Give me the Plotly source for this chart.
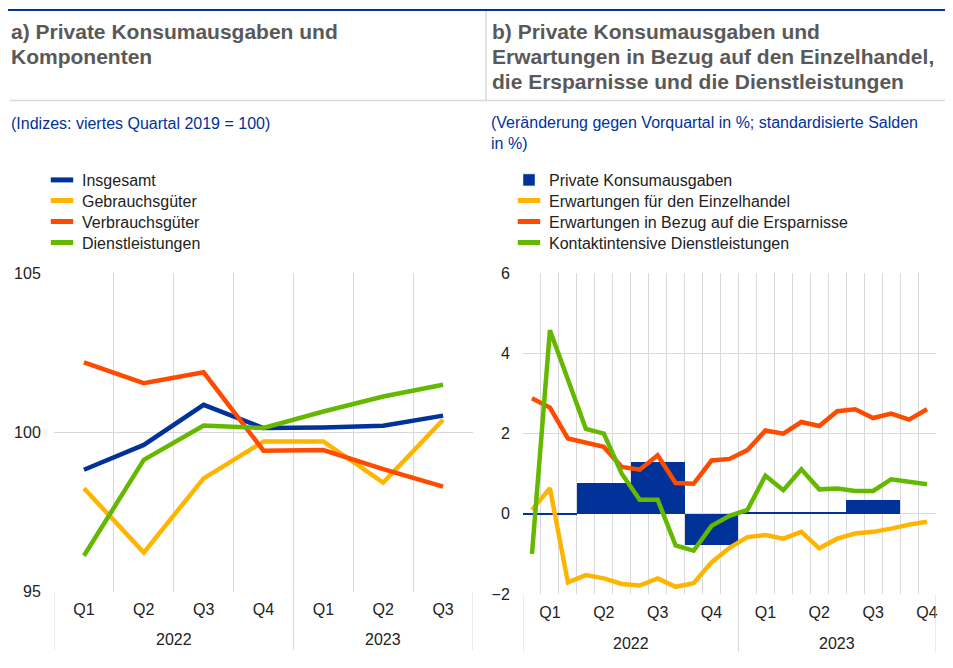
import plotly.graph_objects as go

# page offset of the plot inside the browser page (default body margin)
OFF = 8
FW, FH = 953 - OFF, 668 - OFF

# ---------------- Data: panel a (quarterly indices) ----------------
quarters_a = ["Q1", "Q2", "Q3", "Q4", "Q1", "Q2", "Q3"]
years_a = ["2022", "2022", "2022", "2022", "2023", "2023", "2023"]
insgesamt = [98.83, 99.61, 100.87, 100.14, 100.16, 100.21, 100.53]
gebrauchsgueter = [98.25, 96.23, 98.56, 99.72, 99.72, 98.43, 100.40]
verbrauchsgueter = [102.20, 101.55, 101.89, 99.43, 99.45, 98.85, 98.30]
dienstleistungen = [96.13, 99.14, 100.22, 100.14, 100.66, 101.13, 101.50]

# ---------------- Data: panel b (monthly surveys, quarterly consumption) ----------------
months_b = ["2022-01", "2022-02", "2022-03", "2022-04", "2022-05", "2022-06",
            "2022-07", "2022-08", "2022-09", "2022-10", "2022-11", "2022-12",
            "2023-01", "2023-02", "2023-03", "2023-04", "2023-05", "2023-06",
            "2023-07", "2023-08", "2023-09", "2023-10", "2023-11"]
einzelhandel = [0.10, 0.64, -1.71, -1.53, -1.61, -1.75, -1.79, -1.61, -1.82, -1.73, -1.21, -0.85,
                -0.58, -0.53, -0.62, -0.45, -0.86, -0.62, -0.49, -0.45, -0.37, -0.27, -0.20]
ersparnisse = [2.88, 2.65, 1.88, 1.77, 1.67, 1.17, 1.10, 1.46, 0.77, 0.75, 1.33, 1.37,
               1.59, 2.08, 2.00, 2.29, 2.19, 2.56, 2.61, 2.39, 2.50, 2.35, 2.61]
kontaktintensiv = [-1.00, 4.58, 3.35, 2.12, 2.00, 1.00, 0.35, 0.35, -0.79, -0.92, -0.30, -0.05,
                   0.10, 0.95, 0.59, 1.11, 0.61, 0.63, 0.57, 0.57, 0.86, 0.80, 0.74]
konsum_quarters = ["2022 Q1", "2022 Q2", "2022 Q3", "2022 Q4", "2023 Q1", "2023 Q2", "2023 Q3"]
konsum = [-0.03, 0.77, 1.28, -0.78, 0.03, 0.03, 0.33]
quarter_labels_b = ["Q1", "Q2", "Q3", "Q4", "Q1", "Q2", "Q3", "Q4"]

BLUE = "#003299"
YELLOW = "#FFB400"
RED = "#FF4B00"
GREEN = "#65B800"
GRID = "#d9d9d9"
TXT = "#222222"
FONT = "Liberation Sans, Arial, sans-serif"


def px(x):
    return (x - OFF) / FW


def py(y):
    return 1 - (y - OFF) / FH


fig = go.Figure()

# ---------------- Panel a traces ----------------
xa = list(range(len(quarters_a)))
series_a = [("Insgesamt", insgesamt, BLUE), ("Gebrauchsgüter", gebrauchsgueter, YELLOW),
            ("Verbrauchsgüter", verbrauchsgueter, RED), ("Dienstleistungen", dienstleistungen, GREEN)]
for name, vals, col in series_a:
    fig.add_trace(go.Scatter(x=xa, y=vals, mode="lines", line=dict(color=col, width=4.5),
                             name=name, showlegend=False, xaxis="x", yaxis="y"))

# ---------------- Panel b traces ----------------
xb = list(range(len(months_b)))
qb = [3 * i + 1 for i in range(len(konsum_quarters))]
fig.add_trace(go.Bar(x=qb, y=konsum, width=3, marker=dict(color=BLUE, line=dict(width=0)),
                     name="Private Konsumausgaben", showlegend=False, xaxis="x2", yaxis="y2"))
series_b = [("Erwartungen für den Einzelhandel", einzelhandel, YELLOW),
            ("Erwartungen in Bezug auf die Ersparnisse", ersparnisse, RED),
            ("Kontaktintensive Dienstleistungen", kontaktintensiv, GREEN)]
for name, vals, col in series_b:
    fig.add_trace(go.Scatter(x=xb, y=vals, mode="lines", line=dict(color=col, width=4.5),
                             name=name, showlegend=False, xaxis="x2", yaxis="y2"))

# ---------------- Legend entries (one legend per row) ----------------
legend_rows_y = [180, 200.5, 221.5, 242.5]
legend_layouts = {}
k = 1
for i, (name, _, col) in enumerate(series_a):
    lname = "legend" if k == 1 else f"legend{k}"
    fig.add_trace(go.Scatter(x=[None], y=[None], mode="markers", name=name,
                             marker=dict(symbol="line-ew", size=17, color=col, line=dict(width=6, color=col)),
                             legend=lname, xaxis="x", yaxis="y"))
    legend_layouts[lname] = dict(x=px(42), y=py(legend_rows_y[i]), xanchor="left", yanchor="middle")
    k += 1
legend_b = [("Private Konsumausgaben", None, BLUE)] + series_b
for i, (name, _, col) in enumerate(legend_b):
    lname = f"legend{k}"
    if i == 0:
        fig.add_trace(go.Bar(x=[None], y=[None], name=name, marker=dict(color=col),
                             legend=lname, xaxis="x2", yaxis="y2"))
    else:
        fig.add_trace(go.Scatter(x=[None], y=[None], mode="markers", name=name,
                                 marker=dict(symbol="line-ew", size=17, color=col, line=dict(width=6, color=col)),
                                 legend=lname, xaxis="x2", yaxis="y2"))
    legend_layouts[lname] = dict(x=px(509), y=py(legend_rows_y[i]), xanchor="left", yanchor="middle")
    k += 1
for lname, ld in legend_layouts.items():
    fig.update_layout({lname: dict(**ld, bgcolor="rgba(0,0,0,0)", borderwidth=0,
                                   font=dict(family=FONT, size=16, color=TXT))})

# ---------------- Axes ----------------
tickfont = dict(family=FONT, size=16, color=TXT)
fig.update_layout(
    xaxis=dict(domain=[px(54), px(473)], range=[-0.5, len(quarters_a) - 0.5], automargin=False,
               tickmode="array", tickvals=xa, ticktext=quarters_a, showgrid=False, zeroline=False,
               ticks="outside", ticklen=3, tickcolor="rgba(0,0,0,0)", tickfont=tickfont,
               minor=dict(tickmode="array", tickvals=[i - 0.5 for i in range(len(quarters_a) + 1)],
                          showgrid=True, gridcolor=GRID, gridwidth=1)),
    yaxis=dict(domain=[py(591.7), py(273.3)], range=[95, 105], automargin=False,
               tickmode="array", tickvals=[95, 100, 105],
               showgrid=True, gridcolor=GRID, gridwidth=1, zeroline=False,
               ticks="outside", ticklen=9, tickcolor="rgba(0,0,0,0)", tickfont=tickfont),
    xaxis2=dict(domain=[px(523), px(936)], range=[-0.5, len(months_b) - 0.5], anchor="y2", automargin=False,
                tickmode="array", tickvals=[3 * i + 1 for i in range(len(quarter_labels_b))],
                ticktext=quarter_labels_b, showgrid=False, zeroline=False,
                ticks="outside", ticklen=4, tickcolor="rgba(0,0,0,0)", tickfont=tickfont,
                minor=dict(tickmode="array", tickvals=[i - 0.5 for i in range(len(months_b) + 1)],
                           showgrid=True, gridcolor=GRID, gridwidth=1)),
    yaxis2=dict(domain=[py(594), py(273.3)], range=[-2, 6], anchor="x2", automargin=False,
                tickmode="linear", tick0=-2, dtick=2,
                showgrid=True, gridcolor=GRID, gridwidth=1, zeroline=False,
                ticks="outside", ticklen=9, tickcolor="rgba(0,0,0,0)", tickfont=tickfont),
)

# ---------------- Shapes: header rules and year dividers ----------------
shapes = [
    dict(type="line", xref="paper", yref="paper", x0=px(6), x1=px(953), y0=py(10), y1=py(10),
         line=dict(color=BLUE, width=2)),
    dict(type="line", xref="paper", yref="paper", x0=px(10), x1=px(953), y0=py(100.5), y1=py(100.5),
         line=dict(color=GRID, width=1.5)),
    dict(type="line", xref="paper", yref="paper", x0=px(486), x1=px(486), y0=py(11), y1=py(100),
         line=dict(color=GRID, width=1.5)),
]
for xv in [-0.5, years_a.index("2023") - 0.5, len(quarters_a) - 0.5]:
    shapes.append(dict(type="line", xref="x", yref="paper", x0=xv, x1=xv, y0=py(591.7), y1=py(650),
                       line=dict(color=GRID, width=1)))
first_2023_b = [m[:4] for m in months_b].index("2023")
for xv in [-0.5, first_2023_b - 0.5, len(months_b) - 0.5]:
    shapes.append(dict(type="line", xref="x2", yref="paper", x0=xv, x1=xv, y0=py(594), y1=py(652),
                       line=dict(color=GRID, width=1)))
fig.update_layout(shapes=shapes)

# ---------------- Annotations ----------------
ann = []
title_font = dict(family=FONT, size=21, color="#595959")
for txt, y in [("a) Private Konsumausgaben und", 31), ("Komponenten", 56)]:
    ann.append(dict(text=f"<b>{txt}</b>", x=px(9), y=py(y), xref="paper", yref="paper",
                    xanchor="left", yanchor="middle", showarrow=False, font=title_font))
for txt, y in [("b) Private Konsumausgaben und", 31), ("Erwartungen in Bezug auf den Einzelhandel,", 56),
               ("die Ersparnisse und die Dienstleistungen", 81)]:
    ann.append(dict(text=f"<b>{txt}</b>", x=px(490), y=py(y), xref="paper", yref="paper",
                    xanchor="left", yanchor="middle", showarrow=False, font=title_font))
sub_font = dict(family=FONT, size=16, color=BLUE)
ann.append(dict(text="(Indizes: viertes Quartal 2019 = 100)", x=px(9), y=py(123), xref="paper", yref="paper",
                xanchor="left", yanchor="middle", showarrow=False, font=sub_font))
ann.append(dict(text="(Veränderung gegen Vorquartal in %; standardisierte Salden<br>in %)",
                x=px(489), y=py(112), xref="paper", yref="paper", align="left",
                xanchor="left", yanchor="top", showarrow=False, font=sub_font))
# year labels, centred on each year's span of categories
for yr in ["2022", "2023"]:
    idx = [i for i, y in enumerate(years_a) if y == yr]
    ann.append(dict(text=yr, x=(idx[0] + idx[-1]) / 2, y=py(639), xref="x", yref="paper",
                    xanchor="center", yanchor="middle", showarrow=False, font=tickfont))
    idxb = [i for i, m in enumerate(months_b) if m.startswith(yr)]
    ann.append(dict(text=yr, x=(idxb[0] + idxb[-1]) / 2, y=py(643), xref="x2", yref="paper",
                    xanchor="center", yanchor="middle", showarrow=False, font=tickfont))
fig.update_layout(annotations=ann)

fig.update_layout(width=FW, height=FH, margin=dict(l=0, r=0, t=0, b=0, autoexpand=False),
                  paper_bgcolor="white", plot_bgcolor="white", bargap=0,
                  font=dict(family=FONT, size=16, color=TXT))

fig.write_html("out.html")
